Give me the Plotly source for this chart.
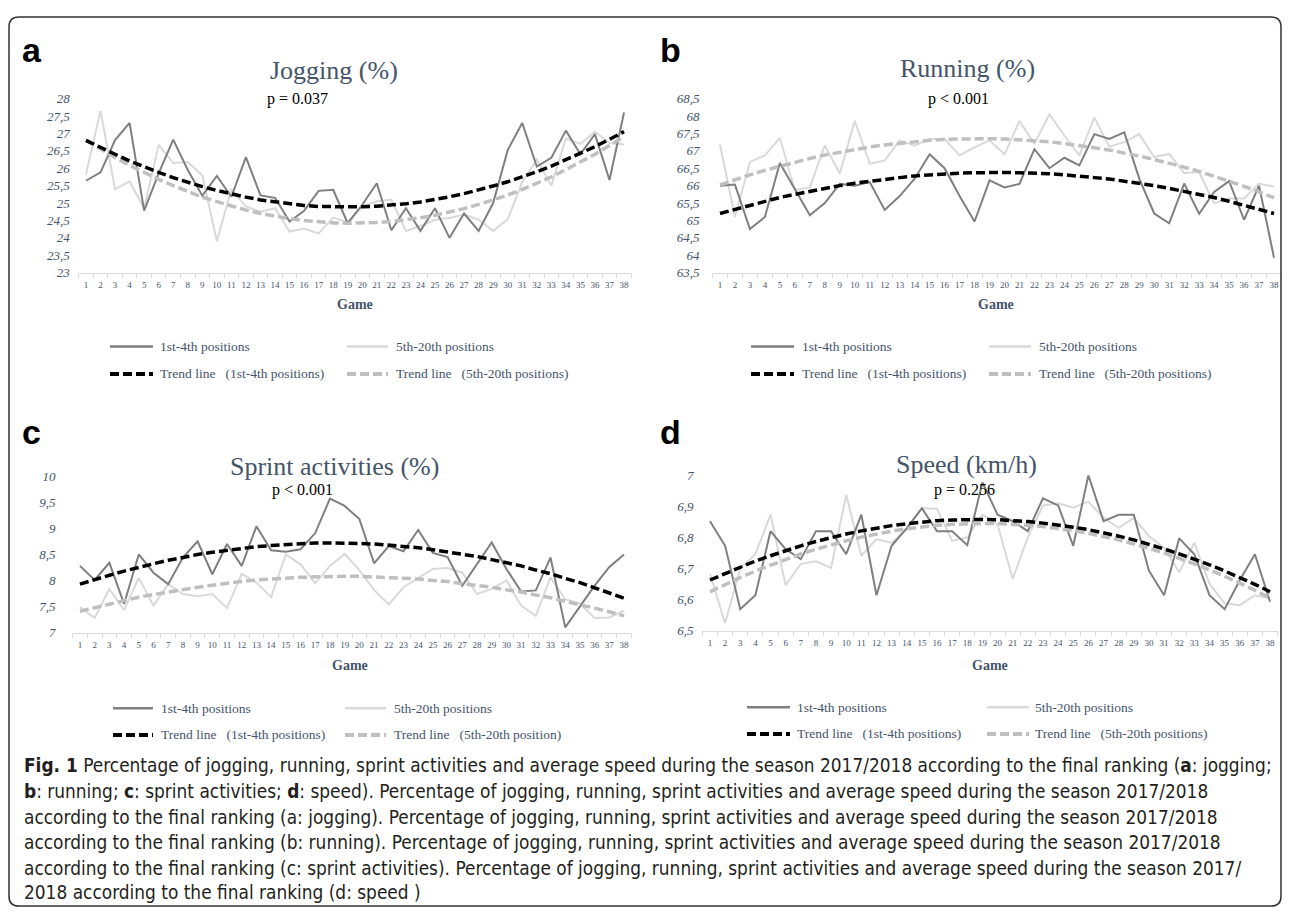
import plotly.graph_objects as go

# Page body has an 8px margin; figure sized so the page exactly fits the 1290x923 window.
OFF = 8
W, H = 1290 - 2 * OFF, 923 - 2 * OFF

# ---------------- data ----------------
games = list(range(1, 39))

jog_top = [25.64, 25.88, 26.81, 27.3, 24.78, 25.85, 26.82, 25.95, 25.21, 25.78, 25.18, 26.32, 25.22, 25.15,
           24.47, 24.78, 25.35, 25.38, 24.42, 24.95, 25.57, 24.22, 24.85, 24.2, 24.85, 24.0, 24.7, 24.2,
           25.0, 26.52, 27.3, 26.05, 26.3, 27.08, 26.4, 26.98, 25.66, 27.6]
jog_rest = [25.82, 27.65, 25.4, 25.62, 24.85, 26.67, 26.15, 26.18, 25.8, 23.9, 25.4, 24.9, 24.75, 24.85,
            24.18, 24.27, 24.13, 24.58, 24.45, 24.9, 25.05, 25.1, 24.2, 24.34, 24.52, 24.57, 24.67, 24.52,
            24.2, 24.53, 25.6, 26.25, 25.5, 26.85, 26.7, 27.05, 26.72, 26.68]
jog_trend_top = [26.80, 26.59, 26.40, 26.21, 26.04, 25.88, 25.73, 25.59, 25.47, 25.36, 25.26, 25.17, 25.09,
                 25.03, 24.97, 24.93, 24.90, 24.89, 24.88, 24.89, 24.91, 24.94, 24.98, 25.03, 25.10, 25.18,
                 25.27, 25.37, 25.49, 25.61, 25.75, 25.90, 26.06, 26.24, 26.42, 26.62, 26.83, 27.05]
jog_trend_rest = [26.80, 26.55, 26.31, 26.08, 25.87, 25.68, 25.50, 25.33, 25.17, 25.04, 24.91, 24.80, 24.70,
                  24.62, 24.55, 24.50, 24.46, 24.43, 24.42, 24.42, 24.44, 24.47, 24.52, 24.58, 24.65, 24.74,
                  24.84, 24.96, 25.09, 25.23, 25.39, 25.57, 25.75, 25.96, 26.17, 26.40, 26.65, 26.91]

run_top = [66.0, 66.03, 64.75, 65.1, 66.65, 65.9, 65.15, 65.5, 66.05, 66.0, 66.1, 65.3, 65.7, 66.2, 66.9,
           66.5, 65.7, 64.97, 66.15, 65.95, 66.05, 67.05, 66.5, 66.8, 66.58, 67.48, 67.34, 67.53, 66.2,
           65.2, 64.92, 66.06, 65.19, 65.82, 66.13, 65.02, 66.0, 63.93]
run_rest = [67.18, 65.1, 66.68, 66.87, 67.37, 65.87, 65.95, 67.15, 66.35, 67.86, 66.63, 66.72, 67.3, 67.15,
            67.34, 67.34, 66.87, 67.1, 67.3, 66.9, 67.86, 67.2, 68.05, 67.44, 66.87, 67.96, 67.12, 67.25,
            67.48, 66.82, 66.91, 66.36, 66.39, 65.49, 65.63, 65.63, 66.06, 65.97]
run_trend_top = [65.20, 65.32, 65.44, 65.55, 65.66, 65.75, 65.84, 65.92, 66.00, 66.07, 66.13, 66.19, 66.23,
                 66.28, 66.31, 66.34, 66.36, 66.37, 66.38, 66.38, 66.37, 66.36, 66.34, 66.31, 66.28, 66.23,
                 66.19, 66.13, 66.07, 66.00, 65.92, 65.84, 65.75, 65.66, 65.55, 65.44, 65.32, 65.20]
run_trend_rest = [66.02, 66.17, 66.31, 66.44, 66.56, 66.68, 66.78, 66.88, 66.96, 67.04, 67.11, 67.17, 67.22,
                  67.27, 67.30, 67.33, 67.34, 67.35, 67.35, 67.34, 67.32, 67.29, 67.26, 67.21, 67.16, 67.09,
                  67.02, 66.94, 66.85, 66.75, 66.65, 66.53, 66.41, 66.27, 66.13, 65.98, 65.82, 65.65]

spr_top = [8.28, 8.01, 8.34, 7.55, 8.5, 8.15, 7.93, 8.44, 8.75, 8.12, 8.7, 8.28, 9.04, 8.58, 8.55, 8.6, 8.91,
           9.57, 9.43, 9.18, 8.33, 8.66, 8.56, 8.97, 8.53, 8.45, 7.9, 8.31, 8.73, 8.22, 7.79, 7.81, 8.44,
           7.1, 7.49, 7.9, 8.26, 8.5]
spr_rest = [7.49, 7.28, 7.84, 7.43, 8.05, 7.52, 7.93, 7.74, 7.7, 7.74, 7.47, 8.13, 7.96, 7.68, 8.5, 8.31,
            7.95, 8.28, 8.51, 8.2, 7.82, 7.54, 7.87, 8.05, 8.22, 8.24, 8.15, 7.74, 7.84, 8.0, 7.52, 7.32,
            8.06, 7.64, 7.56, 7.28, 7.29, 7.42]
spr_trend_top = [7.93, 8.02, 8.10, 8.18, 8.25, 8.32, 8.39, 8.44, 8.50, 8.54, 8.58, 8.62, 8.65, 8.67, 8.69,
                 8.71, 8.72, 8.72, 8.72, 8.71, 8.70, 8.68, 8.66, 8.63, 8.59, 8.55, 8.51, 8.46, 8.40, 8.34,
                 8.28, 8.20, 8.13, 8.04, 7.96, 7.86, 7.76, 7.66]
spr_trend_rest = [7.41, 7.48, 7.55, 7.61, 7.68, 7.73, 7.78, 7.83, 7.87, 7.91, 7.95, 7.98, 8.01, 8.03, 8.05,
                  8.06, 8.07, 8.08, 8.08, 8.08, 8.07, 8.06, 8.05, 8.03, 8.00, 7.98, 7.94, 7.91, 7.87, 7.82,
                  7.78, 7.72, 7.67, 7.60, 7.54, 7.47, 7.40, 7.32]

spd_top = [6.852, 6.773, 6.569, 6.614, 6.82, 6.762, 6.73, 6.82, 6.82, 6.746, 6.873, 6.614, 6.773, 6.83,
           6.894, 6.82, 6.82, 6.775, 6.977, 6.873, 6.852, 6.82, 6.926, 6.903, 6.773, 7.0, 6.852, 6.873,
           6.873, 6.693, 6.614, 6.797, 6.746, 6.614, 6.569, 6.662, 6.746, 6.593]
spd_rest = [6.683, 6.524, 6.7, 6.746, 6.873, 6.646, 6.715, 6.723, 6.702, 6.937, 6.741, 6.794, 6.783, 6.826,
            6.894, 6.892, 6.789, 6.8, 6.873, 6.841, 6.667, 6.8, 6.903, 6.91, 6.896, 6.915, 6.863, 6.831,
            6.863, 6.804, 6.767, 6.688, 6.783, 6.651, 6.588, 6.582, 6.614, 6.604]
spd_trend_top = [6.663, 6.684, 6.705, 6.724, 6.741, 6.758, 6.773, 6.787, 6.800, 6.811, 6.821, 6.830, 6.838,
                 6.844, 6.850, 6.854, 6.856, 6.858, 6.858, 6.857, 6.855, 6.851, 6.846, 6.840, 6.833, 6.825,
                 6.815, 6.804, 6.792, 6.778, 6.763, 6.747, 6.730, 6.712, 6.692, 6.671, 6.649, 6.625]
spd_trend_rest = [6.625, 6.649, 6.671, 6.692, 6.711, 6.730, 6.747, 6.762, 6.776, 6.789, 6.801, 6.811, 6.820,
                  6.828, 6.834, 6.839, 6.842, 6.844, 6.845, 6.845, 6.843, 6.839, 6.835, 6.829, 6.822, 6.813,
                  6.803, 6.792, 6.779, 6.765, 6.750, 6.733, 6.715, 6.696, 6.675, 6.653, 6.630, 6.605]

jog_ticks = [23, 23.5, 24, 24.5, 25, 25.5, 26, 26.5, 27, 27.5, 28]
run_ticks = [63.5, 64, 64.5, 65, 65.5, 66, 66.5, 67, 67.5, 68, 68.5]
spr_ticks = [7, 7.5, 8, 8.5, 9, 9.5, 10]
spd_ticks = [6.5, 6.6, 6.7, 6.8, 6.9, 7]

titles = ["Jogging (%)", "Running (%)", "Sprint activities (%)", "Speed (km/h)"]
p_texts = ["p = 0.037", "p < 0.001", "p < 0.001", "p = 0.256"]
letters = ["a", "b", "c", "d"]
SP = "\u00a0\u00a0\u00a0"
legend_labels = [
    ["1st-4th positions", "5th-20th positions", "Trend line" + SP + "(1st-4th positions)", "Trend line" + SP + "(5th-20th positions)"],
    ["1st-4th positions", "5th-20th positions", "Trend line" + SP + "(1st-4th positions)", "Trend line" + SP + "(5th-20th positions)"],
    ["1st-4th positions", "5th-20th positions", "Trend line" + SP + "(1st-4th positions)", "Trend line" + SP + "(5th-20th position)"],
    ["1st-4th positions", "5th-20th positions", "Trend line" + SP + "(1st-4th positions)", "Trend line" + SP + "(5th-20th positions)"],
]
caption_lines = [
    "<b>Fig. 1</b> Percentage of jogging, running, sprint activities and average speed during the season 2017/2018 according to the final ranking (<b>a</b>: jogging;",
    "<b>b</b>: running; <b>c</b>: sprint activities; <b>d</b>: speed). Percentage of jogging, running, sprint activities and average speed during the season 2017/2018",
    "according to the final ranking (a: jogging). Percentage of jogging, running, sprint activities and average speed during the season 2017/2018",
    "according to the final ranking (b: running). Percentage of jogging, running, sprint activities and average speed during the season 2017/2018",
    "according to the final ranking (c: sprint activities). Percentage of jogging, running, sprint activities and average speed during the season 2017/",
    "2018 according to the final ranking (d: speed )",
]

series = [
    (jog_top, jog_rest, jog_trend_top, jog_trend_rest, jog_ticks),
    (run_top, run_rest, run_trend_top, run_trend_rest, run_ticks),
    (spr_top, spr_rest, spr_trend_top, spr_trend_rest, spr_ticks),
    (spd_top, spd_rest, spd_trend_top, spd_trend_rest, spd_ticks),
]


# ---------------- layout geometry (reference pixels) ----------------
def fx(px):
    return (px - OFF) / W


def fy(py):
    return 1 - (py - OFF) / H


geo = [
    dict(x0=78.7, x1=631.3, ytop=93, ybot=270, letter=(32, 44), title=(334, 64), p=(297, 93), game=(355, 302),
         leg_rows=(345, 373), leg_cols=((110, 153, 158), (347, 388, 394)), stand=8),
    dict(x0=712.5, x1=1281.5, ytop=93, ybot=270, letter=(670, 44), title=(967, 62), p=(959, 93), game=(996, 302),
         leg_rows=(345, 373), leg_cols=((751, 794, 800), (989, 1031, 1037)), stand=12),
    dict(x0=72.6, x1=631.4, ytop=477, ybot=636, letter=(32, 432), title=(334, 467), p=(302, 491), game=(350, 669),
         leg_rows=(713, 740), leg_cols=((113, 153, 159), (345, 386, 392)), stand=16),
    dict(x0=702.4, x1=1277.6, ytop=476, ybot=634, letter=(670, 432), title=(966, 465), p=(964, 491), game=(990, 669),
         leg_rows=(712, 739), leg_cols=((747, 790, 795), (987, 1029, 1033)), stand=8),
]

DARK = "#7F7F7F"
LIGHT = "#D9D9D9"
TREND_DARK = "#000000"
TREND_LIGHT = "#BFBFBF"
SLATE = "#44546A"
SERIF = "Liberation Serif, DejaVu Serif, serif"
DASH = "9px,4px"

fig = go.Figure()
shapes = []
annotations = []
layout_axes = {}

styles = [
    dict(color=DARK, width=2, dash="solid"),
    dict(color=LIGHT, width=2, dash="solid"),
    dict(color=TREND_DARK, width=3.5, dash=DASH),
    dict(color=TREND_LIGHT, width=3.5, dash=DASH),
]

for i, (g, s) in enumerate(zip(geo, series)):
    top, rest, ttop, trest, ticks = s
    sfx = "" if i == 0 else str(i + 1)
    xa, ya = "x" + sfx, "y" + sfx
    order = [(rest, styles[1], "5th-20th positions"), (top, styles[0], "1st-4th positions"),
             (trest, styles[3], "Trend (5th-20th)"), (ttop, styles[2], "Trend (1st-4th)")]
    for vals, st, nm in order:
        fig.add_trace(go.Scatter(x=games, y=vals, mode="lines", name=nm, xaxis=xa, yaxis=ya,
                                 line=dict(color=st["color"], width=st["width"], dash=st["dash"]),
                                 showlegend=False, hoverinfo="x+y"))
    layout_axes["xaxis" + sfx] = dict(
        domain=[fx(g["x0"]), fx(g["x1"])], anchor=ya, range=[0.5, 38.5],
        tickmode="array", tickvals=games, ticktext=[str(v) for v in games],
        tickfont=dict(family=SERIF, size=9, color=SLATE), ticks="", ticklabelstandoff=4,
        showline=True, linecolor=LIGHT, linewidth=1, showgrid=False, zeroline=False,
        minor=dict(ticks="outside", tick0=0.5, dtick=1, ticklen=4, tickcolor=LIGHT, tickwidth=1, showgrid=False),
        fixedrange=True,
    )
    layout_axes["yaxis" + sfx] = dict(
        domain=[fy(g["ybot"]), fy(g["ytop"])], anchor=xa, range=[ticks[0], ticks[-1]],
        tickmode="array", tickvals=ticks, ticktext=[("%g" % t).replace(".", ",") for t in ticks],
        tickfont=dict(family=SERIF, size=13, color=SLATE, style="italic"), ticks="",
        ticklabelstandoff=g["stand"],
        showline=False, showgrid=False, zeroline=False, fixedrange=True,
    )
    annotations.append(dict(text="<b>%s</b>" % letters[i], x=fx(g["letter"][0]), y=fy(g["letter"][1]),
                            xref="paper", yref="paper", xanchor="center", yanchor="middle", showarrow=False,
                            font=dict(family="Liberation Sans, Arial, sans-serif", size=34, color="#000000")))
    annotations.append(dict(text=titles[i], x=fx(g["title"][0]), y=fy(g["title"][1]), xref="paper", yref="paper",
                            xanchor="center", yanchor="middle", showarrow=False,
                            font=dict(family=SERIF, size=26, color=SLATE)))
    annotations.append(dict(text=p_texts[i], x=fx(g["p"][0]), y=fy(g["p"][1]), xref="paper", yref="paper",
                            xanchor="center", yanchor="middle", showarrow=False,
                            font=dict(family=SERIF, size=16, color="#000000")))
    annotations.append(dict(text="<b>Game</b>", x=fx(g["game"][0]), y=fy(g["game"][1]), xref="paper", yref="paper",
                            xanchor="center", yanchor="middle", showarrow=False,
                            font=dict(family=SERIF, size=14, color=SLATE)))
    for k in range(4):
        row = g["leg_rows"][k // 2]
        c0, c1, ct = g["leg_cols"][k % 2]
        st = styles[k]
        shapes.append(dict(type="line", xref="paper", yref="paper", x0=fx(c0), x1=fx(c1), y0=fy(row), y1=fy(row),
                           line=dict(color=st["color"], width=st["width"] + 0.5, dash=st["dash"])))
        annotations.append(dict(text=legend_labels[i][k], x=fx(ct), y=fy(row), xref="paper", yref="paper",
                                xanchor="left", yanchor="middle", showarrow=False,
                                font=dict(family=SERIF, size=13.5, color=SLATE)))

cap_y = [771, 797, 823, 849, 875, 900]
for line, yy in zip(caption_lines, cap_y):
    annotations.append(dict(text=line, x=fx(22), y=fy(yy), xref="paper", yref="paper", xanchor="left",
                            yanchor="middle", showarrow=False,
                            font=dict(family="DejaVu Sans Condensed, Liberation Sans Narrow, sans-serif",
                                      size=18.9, color="#231F20")))

# outer rounded frame
L, T, R, B, rad = 9, 10, 1281, 914, 10
path = ("M %f,%f L %f,%f Q %f,%f %f,%f L %f,%f Q %f,%f %f,%f L %f,%f Q %f,%f %f,%f L %f,%f Q %f,%f %f,%f Z" % (
    fx(L + rad), fy(T), fx(R - rad), fy(T), fx(R), fy(T), fx(R), fy(T + rad),
    fx(R), fy(B - rad), fx(R), fy(B), fx(R - rad), fy(B),
    fx(L + rad), fy(B), fx(L), fy(B), fx(L), fy(B - rad),
    fx(L), fy(T + rad), fx(L), fy(T), fx(L + rad), fy(T)))
shapes.append(dict(type="path", xref="paper", yref="paper", path=path, line=dict(color="#333333", width=1.5)))

fig.update_layout(
    width=W, height=H, margin=dict(l=0, r=0, t=0, b=0),
    paper_bgcolor="white", plot_bgcolor="white", showlegend=False,
    shapes=shapes, annotations=annotations, **layout_axes,
)

fig.write_html("out.html")
